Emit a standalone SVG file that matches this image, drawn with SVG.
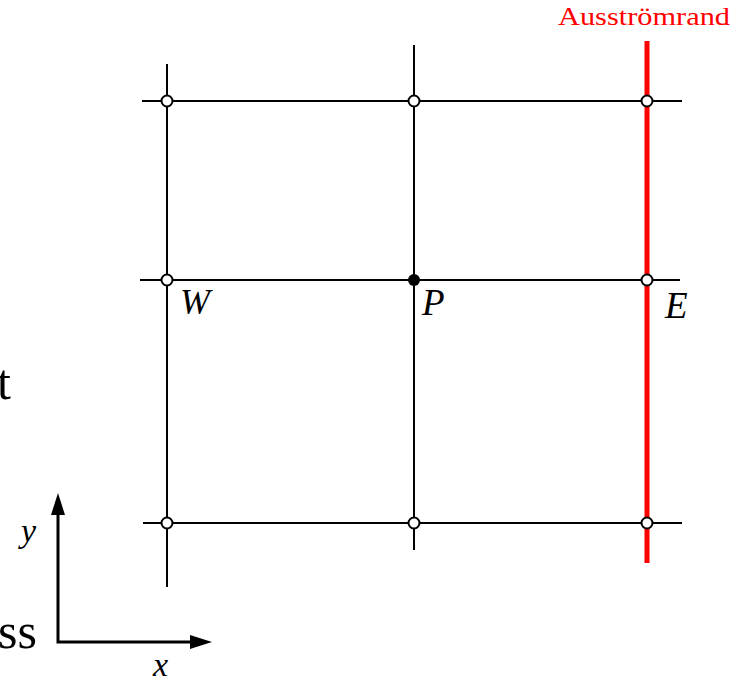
<svg xmlns="http://www.w3.org/2000/svg" width="735" height="682" viewBox="0 0 735 682">
<style>
.g{stroke:#000;stroke-width:2;fill:none}
.n{fill:#fff;stroke:#000;stroke-width:2}
.serif{font-family:"Liberation Serif","Times New Roman","DejaVu Serif",serif}
.lbl{font-style:italic;fill:#000}
.big{font-size:50px;fill:#000}
</style>
<rect width="735" height="682" fill="#fff"/>
<g id="connectors">
<line class="g" x1="167" y1="64" x2="167" y2="587"/>
<line class="g" x1="414" y1="45" x2="414" y2="550"/>
<line class="g" x1="142" y1="101" x2="682" y2="101"/>
<line class="g" x1="140" y1="280" x2="680" y2="280"/>
<line class="g" x1="143" y1="523" x2="682" y2="523"/>
<line x1="647" y1="41" x2="647" y2="563" stroke="#f00" stroke-width="5"/>
</g>
<g id="axes">
<polyline points="58,500 58,642 200,642" fill="none" stroke="#000" stroke-width="3" stroke-linejoin="miter"/>
<path d="M58,493 L51,515 L65,515 Z" fill="#000"/>
<path d="M212,642 L190,635 L190,649 Z" fill="#000"/>
<text class="serif lbl" x="21" y="542" font-size="34">y</text>
<text class="serif lbl" x="153" y="676" font-size="34">x</text>
</g>
<g id="n-tl"><circle class="n" cx="167" cy="101" r="5.5"/></g>
<g id="n-tm"><circle class="n" cx="414" cy="101" r="5.5"/></g>
<g id="n-tr"><circle class="n" cx="647" cy="101" r="5.5"/></g>
<g id="n-W"><circle class="n" cx="167" cy="280" r="5.5"/><text class="serif lbl" x="180" y="314" font-size="36">W</text></g>
<g id="n-P"><circle cx="414" cy="280" r="6" fill="#000"/><text class="serif lbl" x="422" y="315" font-size="37">P</text></g>
<g id="n-E"><circle class="n" cx="647" cy="280" r="5.5"/><text class="serif lbl" x="665" y="318" font-size="37">E</text></g>
<g id="n-bl"><circle class="n" cx="167" cy="523" r="5.5"/></g>
<g id="n-bm"><circle class="n" cx="414" cy="523" r="5.5"/></g>
<g id="n-br"><circle class="n" cx="647" cy="523" r="5.5"/></g>
<g id="boundary-label"><text class="serif" x="558" y="25" font-size="26" textLength="172" lengthAdjust="spacingAndGlyphs" fill="#f00">Ausströmrand</text></g>
<text class="serif big" x="-3" y="399">t</text>
<text class="serif big" x="-2" y="648">ss</text>
</svg>
